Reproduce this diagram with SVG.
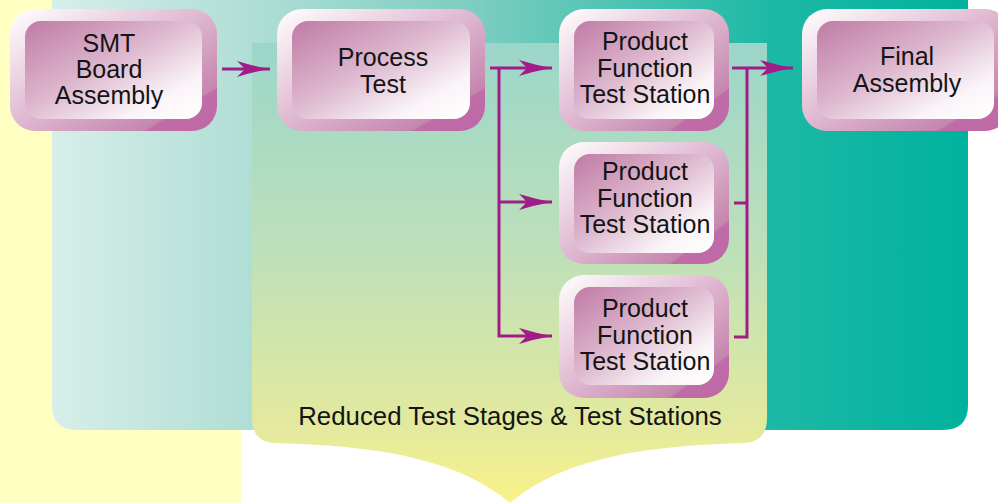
<svg xmlns="http://www.w3.org/2000/svg" width="998" height="503" viewBox="0 0 998 503">
  <defs>
    <linearGradient id="tealPanel" gradientUnits="userSpaceOnUse" x1="52" y1="0" x2="968" y2="0">
      <stop offset="0" stop-color="#D7EEE9"/>
      <stop offset="0.2" stop-color="#B3DFD7"/>
      <stop offset="0.47" stop-color="#7ACDBF"/>
      <stop offset="0.78" stop-color="#1EB9A6"/>
      <stop offset="1" stop-color="#00B29D"/>
    </linearGradient>
    <linearGradient id="stagePanel" gradientUnits="userSpaceOnUse" x1="0" y1="43" x2="0" y2="503">
      <stop offset="0" stop-color="#9BD6CA"/>
      <stop offset="0.45" stop-color="#BDE0B9"/>
      <stop offset="0.85" stop-color="#E5EA9D"/>
      <stop offset="1" stop-color="#FAF288"/>
    </linearGradient>
    <linearGradient id="bevelOuter" x1="0" y1="0" x2="1" y2="1">
      <stop offset="0" stop-color="#FFFFFF"/>
      <stop offset="0.45" stop-color="#E2BDD4"/>
      <stop offset="0.82" stop-color="#C586AE"/>
      <stop offset="0.83" stop-color="#C06CA8"/>
      <stop offset="1" stop-color="#BE68A6"/>
    </linearGradient>
    <linearGradient id="bevelInner" x1="0" y1="0" x2="1" y2="1">
      <stop offset="0" stop-color="#C07AA5"/>
      <stop offset="0.45" stop-color="#DDB8CE"/>
      <stop offset="0.78" stop-color="#FAF4F8"/>
      <stop offset="1" stop-color="#FFFFFF"/>
    </linearGradient>
    <marker id="barb" viewBox="0 -9 34 18" refX="33" refY="0" markerWidth="34" markerHeight="18" markerUnits="userSpaceOnUse" orient="auto">
      <path d="M33,0 Q16,-3 0,-8 L8,0 L0,8 Q16,3 33,0 Z" fill="#A11C87"/>
    </marker>
  </defs>
  <style>
    .outer { fill: url(#bevelOuter); }
    .inner { fill: url(#bevelInner); }
    .label { font-family: "Liberation Sans", Arial, sans-serif; font-size: 25px; fill: #141414; text-anchor: middle; }
    .caption { font-size: 25.8px; }
    .wire { fill: none; stroke: #A11C87; stroke-width: 3; }
  </style>

  <!-- backdrop -->
  <rect x="0" y="0" width="998" height="503" fill="#FFFFFF"/>
  <rect x="0" y="0" width="241" height="503" fill="#FFFFC2"/>
  <path d="M52,0 H968 V405 Q968,430 943,430 H77 Q52,430 52,405 Z" fill="url(#tealPanel)"/>
  <path d="M252,43 H767 V418 Q767,443 742,443 H750 C640,445 560,460 510,503 C460,460 380,445 270,443 H277 Q252,443 252,418 Z" fill="url(#stagePanel)"/>
  <text class="label caption" x="510" y="425">Reduced Test Stages &amp; Test Stations</text>

  <!-- connectors -->
  <g id="connectors">
    <path class="wire" d="M222,69 H270" marker-end="url(#barb)"/>
    <path class="wire" d="M490,68 H552" marker-end="url(#barb)"/>
    <path class="wire" d="M499,68 V336 H552" marker-end="url(#barb)"/>
    <path class="wire" d="M499,202 H552" marker-end="url(#barb)"/>
    <path class="wire" d="M734,203 H747"/>
    <path class="wire" d="M734,337 H747 V68"/>
    <path class="wire" d="M732,68 H793" marker-end="url(#barb)"/>
  </g>

  <g id="smt-board-assembly">
    <rect class="outer" x="10" y="9" width="207" height="122" rx="25"/>
    <rect class="inner" x="25" y="21" width="177" height="98" rx="16"/>
    <text class="label" x="109" y="52">SMT</text>
    <text class="label" x="109" y="78">Board</text>
    <text class="label" x="109" y="104">Assembly</text>
  </g>

  <g id="process-test">
    <rect class="outer" x="277" y="9" width="208" height="122" rx="25"/>
    <rect class="inner" x="292" y="21" width="178" height="98" rx="16"/>
    <text class="label" x="383" y="66">Process</text>
    <text class="label" x="383" y="93">Test</text>
  </g>

  <g id="test-station-1">
    <rect class="outer" x="559" y="9" width="170" height="122" rx="25"/>
    <rect class="inner" x="574" y="21" width="140" height="98" rx="16"/>
    <text class="label" x="645" y="50">Product</text>
    <text class="label" x="645" y="77">Function</text>
    <text class="label" x="645" y="103">Test Station</text>
  </g>

  <g id="test-station-2">
    <rect class="outer" x="559" y="142" width="170" height="122" rx="25"/>
    <rect class="inner" x="574" y="154" width="140" height="99" rx="16"/>
    <text class="label" x="645" y="180">Product</text>
    <text class="label" x="645" y="207">Function</text>
    <text class="label" x="645" y="233">Test Station</text>
  </g>

  <g id="test-station-3">
    <rect class="outer" x="559" y="275" width="170" height="123" rx="25"/>
    <rect class="inner" x="574" y="287" width="140" height="98" rx="16"/>
    <text class="label" x="645" y="317">Product</text>
    <text class="label" x="645" y="344">Function</text>
    <text class="label" x="645" y="370">Test Station</text>
  </g>

  <g id="final-assembly">
    <rect class="outer" x="802" y="9" width="208" height="122" rx="25"/>
    <rect class="inner" x="817" y="21" width="177" height="98" rx="16"/>
    <text class="label" x="907" y="65">Final</text>
    <text class="label" x="907" y="92">Assembly</text>
  </g>
</svg>
